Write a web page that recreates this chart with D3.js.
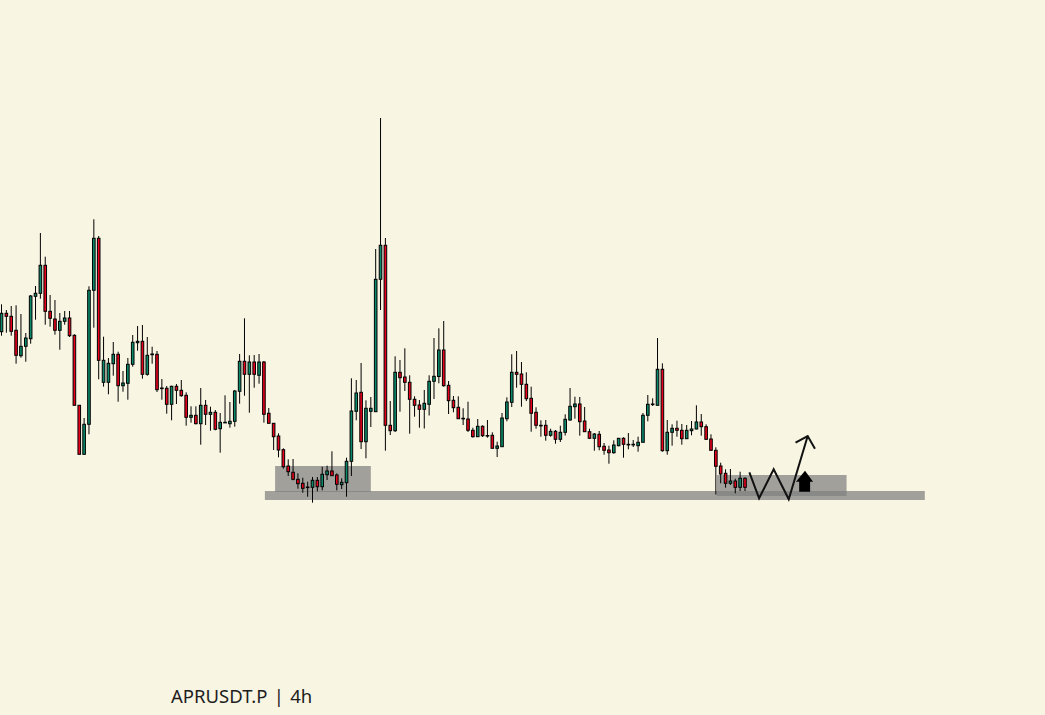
<!DOCTYPE html>
<html>
<head>
<meta charset="utf-8">
<script src="https://cdn.jsdelivr.net/npm/d3@7"></script>
<style>
  html, body { margin: 0; padding: 0; background: #f8f5e3; }
  svg { display: block; }
</style>
</head>
<body>
<div id="chart"></div>
<script>
// APRUSDT.P 4h candles
const open = [0.3683,0.3867,0.3837,0.3697,0.3443,0.3537,0.3613,0.4037,0.4067,0.4347,
0.3887,0.3810,0.3697,0.3787,0.3820,0.3647,0.2947,0.2457,0.2757,0.4097,
0.4617,0.3177,0.3177,0.3363,0.3457,0.3143,0.3167,0.3357,0.3573,0.3587,
0.3257,0.3453,0.3457,0.3115,0.3117,0.2957,0.3137,0.3097,0.3047,0.2827,
0.2847,0.2763,0.2947,0.2857,0.2877,0.2713,0.2775,0.2763,0.2787,0.3087,
0.3387,0.3257,0.3380,0.3247,0.3380,0.2867,0.2767,0.2640,0.2503,0.2340,
0.2277,0.2207,0.2167,0.2127,0.2127,0.2197,0.2133,0.2253,0.2290,0.2250,
0.2153,0.2173,0.2387,0.2887,0.3077,0.2583,0.2887,0.2883,0.4207,0.4547,
0.2747,0.2693,0.3277,0.3230,0.3177,0.3007,0.2950,0.2907,0.2957,0.3187,
0.3235,0.3500,0.3147,0.2997,0.2927,0.2815,0.2810,0.2697,0.2633,0.2737,
0.2643,0.2647,0.2517,0.2533,0.2813,0.2977,0.3277,0.3260,0.3157,0.3017,
0.2877,0.2745,0.2747,0.2647,0.2687,0.2607,0.2677,0.2800,0.2933,0.2960,
0.2790,0.2683,0.2617,0.2657,0.2537,0.2500,0.2473,0.2543,0.2617,0.2555,
0.2555,0.2543,0.2577,0.2847,0.2958,0.2947,0.3307,0.2493,0.2677,0.2717,
0.2697,0.2613,0.2693,0.2710,0.2780,0.2733,0.2610,0.2497,0.2340,0.2267,
0.2167,0.2190,0.2127,0.2217];
const high = [0.3957,0.3900,0.3940,0.3947,0.3860,0.3670,0.4050,0.4140,0.4670,0.4433,
0.4050,0.4000,0.3870,0.3890,0.3890,0.3657,0.2947,0.2820,0.4137,0.4807,
0.4640,0.3633,0.3420,0.3580,0.3483,0.3290,0.3420,0.3650,0.3740,0.3750,
0.3630,0.3533,0.3490,0.3210,0.3140,0.3143,0.3160,0.3200,0.3077,0.2937,
0.2937,0.3120,0.3000,0.2933,0.2900,0.2870,0.3047,0.2980,0.3100,0.3460,
0.3817,0.3447,0.3450,0.3460,0.3390,0.2920,0.2767,0.2667,0.2517,0.2407,
0.2410,0.2267,0.2223,0.2183,0.2230,0.2230,0.2333,0.2343,0.2487,0.2267,
0.2217,0.2423,0.3217,0.3200,0.3370,0.2997,0.3030,0.4510,0.5820,0.4620,
0.2990,0.3437,0.3400,0.3517,0.3247,0.3037,0.3000,0.3100,0.3247,0.3620,
0.3717,0.3790,0.3190,0.3040,0.3037,0.2917,0.2983,0.2723,0.2810,0.2747,
0.2800,0.2677,0.2583,0.2870,0.3027,0.3457,0.3490,0.3380,0.3277,0.3133,
0.2927,0.2797,0.2800,0.2713,0.2700,0.2743,0.2857,0.3120,0.3033,0.3030,
0.2930,0.2713,0.2670,0.2690,0.2570,0.2543,0.2597,0.2620,0.2627,0.2670,
0.2600,0.2633,0.2870,0.3050,0.3017,0.3620,0.3367,0.2800,0.2757,0.2793,
0.2760,0.2750,0.2790,0.2947,0.2860,0.2757,0.2657,0.2527,0.2373,0.2307,
0.2310,0.2213,0.2283,0.2227];
const low = [0.3643,0.3673,0.3643,0.3363,0.3423,0.3383,0.3563,0.3803,0.4013,0.3753,
0.3733,0.3653,0.3503,0.3753,0.3630,0.2947,0.2457,0.2457,0.2657,0.3723,
0.3207,0.3133,0.3057,0.3243,0.2983,0.3083,0.3003,0.3333,0.3493,0.3213,
0.3243,0.3363,0.3080,0.3003,0.2863,0.2797,0.2960,0.3033,0.2743,0.2773,
0.2757,0.2553,0.2750,0.2693,0.2697,0.2473,0.2773,0.2723,0.2733,0.2963,
0.3043,0.2873,0.3123,0.3163,0.2773,0.2767,0.2500,0.2427,0.2313,0.2240,
0.2197,0.2113,0.2073,0.2033,0.1973,0.2087,0.2097,0.2200,0.2243,0.2097,
0.2110,0.2033,0.2240,0.2797,0.2510,0.2417,0.2730,0.2883,0.3900,0.2493,
0.2650,0.2680,0.2883,0.3090,0.2663,0.2833,0.2723,0.2715,0.2845,0.3010,
0.3167,0.3133,0.2860,0.2877,0.2813,0.2750,0.2680,0.2623,0.2630,0.2630,
0.2623,0.2517,0.2430,0.2530,0.2787,0.2930,0.3123,0.2933,0.2990,0.2683,
0.2713,0.2633,0.2593,0.2633,0.2563,0.2580,0.2645,0.2793,0.2813,0.2643,
0.2680,0.2610,0.2493,0.2497,0.2453,0.2363,0.2463,0.2537,0.2423,0.2507,
0.2530,0.2483,0.2577,0.2787,0.2940,0.2947,0.2483,0.2453,0.2543,0.2633,
0.2553,0.2613,0.2647,0.2707,0.2643,0.2600,0.2493,0.2055,0.2167,0.2123,
0.2150,0.2067,0.2090,0.2090];
const close = [0.3867,0.3837,0.3687,0.3447,0.3537,0.3620,0.4040,0.4067,0.4347,0.3887,
0.3817,0.3697,0.3787,0.3820,0.3643,0.2947,0.2457,0.2757,0.4097,0.4617,
0.3397,0.3397,0.3367,0.3457,0.3143,0.3170,0.3357,0.3577,0.3587,0.3257,
0.3447,0.3460,0.3103,0.3120,0.2957,0.3137,0.3097,0.3043,0.2827,0.2847,
0.2763,0.2947,0.2857,0.2877,0.2707,0.2777,0.2777,0.2787,0.3090,0.3387,
0.3257,0.3380,0.3257,0.3380,0.2857,0.2767,0.2633,0.2500,0.2333,0.2283,
0.2207,0.2163,0.2117,0.2130,0.2197,0.2133,0.2257,0.2290,0.2243,0.2157,
0.2177,0.2387,0.2890,0.3070,0.2583,0.2917,0.2917,0.4207,0.4547,0.2747,
0.2693,0.3277,0.3223,0.3177,0.3007,0.2947,0.2907,0.2967,0.3187,0.3237,
0.3500,0.3143,0.2993,0.2923,0.2813,0.2817,0.2697,0.2633,0.2737,0.2643,
0.2645,0.2517,0.2540,0.2820,0.2980,0.3277,0.3257,0.3157,0.3013,0.2867,
0.2747,0.2747,0.2647,0.2687,0.2607,0.2677,0.2807,0.2937,0.2960,0.2783,
0.2683,0.2617,0.2660,0.2533,0.2497,0.2473,0.2550,0.2617,0.2557,0.2557,
0.2557,0.2577,0.2847,0.2957,0.2960,0.3307,0.2493,0.2677,0.2717,0.2697,
0.2613,0.2697,0.2710,0.2780,0.2733,0.2607,0.2497,0.2337,0.2260,0.2167,
0.2190,0.2127,0.2217,0.2127];

// Drawn annotations (candle index / price units)
const zones = [
  { x0: 56.3, x1: 76.0, p0: 0.2340, p1: 0.2080 },
  { x0: 54.2, x1: 190.0, p0: 0.2090, p1: 0.2000 },
  { x0: 147.2, x1: 173.9, p0: 0.2250, p1: 0.2040 }
];
const zigzag = [[153.9,0.2277],[155.9,0.2017],[158.9,0.2307],[162.0,0.2007],[165.9,0.2640]];
const arrowHead = [[163.4,0.2573],[165.9,0.2640],[167.4,0.2513]];
const upArrow = [[165.35,0.2293],[167.0,0.2183],[166.4,0.2183],[166.4,0.2083],[164.15,0.2083],[164.15,0.2183],[163.5,0.2183]];
const title = "APRUSDT.P | 4h";

const W = 1045, H = 715;
const candles = open.map((o, i) => ({ i, o, h: high[i], l: low[i], c: close[i] }));

const x = d3.scaleLinear().domain([0, 153]).range([1.5, 745]);
const y = d3.scaleLinear().domain([0, 0.7]).range([700, 0]);

const svg = d3.select("#chart").append("svg")
  .attr("width", W).attr("height", H);

svg.append("rect").attr("width", W).attr("height", H).attr("fill", "#f8f5e3");

// zones
svg.append("g").selectAll("rect").data(zones).join("rect")
  .attr("x", d => x(d.x0))
  .attr("y", d => y(d.p0))
  .attr("width", d => x(d.x1) - x(d.x0))
  .attr("height", d => y(d.p1) - y(d.p0))
  .attr("fill", "#7f7f7f")
  .attr("fill-opacity", 0.72);

const g = svg.append("g");
g.selectAll("line.wick").data(candles).join("line")
  .attr("class", "wick")
  .attr("x1", d => x(d.i)).attr("x2", d => x(d.i))
  .attr("y1", d => y(d.h)).attr("y2", d => y(d.l))
  .attr("stroke", "#000").attr("stroke-width", 1);

const bw = 2.6;
g.selectAll("rect.body").data(candles).join("rect")
  .attr("class", "body")
  .attr("x", d => x(d.i) - bw / 2)
  .attr("y", d => y(Math.max(d.o, d.c)))
  .attr("width", bw)
  .attr("height", d => Math.max(0.6, Math.abs(y(d.o) - y(d.c))))
  .attr("fill", d => d.c >= d.o ? "#0a8a6a" : "#e8001c")
  .attr("stroke", "#000").attr("stroke-width", 1);

const line = d3.line().x(d => x(d[0])).y(d => y(d[1]));
svg.append("path").attr("d", line(zigzag))
  .attr("fill", "none").attr("stroke", "#111").attr("stroke-width", 2)
  .attr("stroke-linejoin", "miter");
svg.append("path").attr("d", line(arrowHead))
  .attr("fill", "none").attr("stroke", "#111").attr("stroke-width", 2);
svg.append("path").attr("d", line(upArrow) + "Z")
  .attr("fill", "#000");

svg.append("text")
  .attr("x", 171).attr("y", 703)
  .attr("font-family", "'Noto Sans', sans-serif")
  .attr("font-size", 18.5)
  .attr("word-spacing", 1.5)
  .attr("fill", "#1e1e1e")
  .attr("xml:space", "preserve")
  .style("white-space", "pre")
  .text(title);
</script>
</body>
</html>
